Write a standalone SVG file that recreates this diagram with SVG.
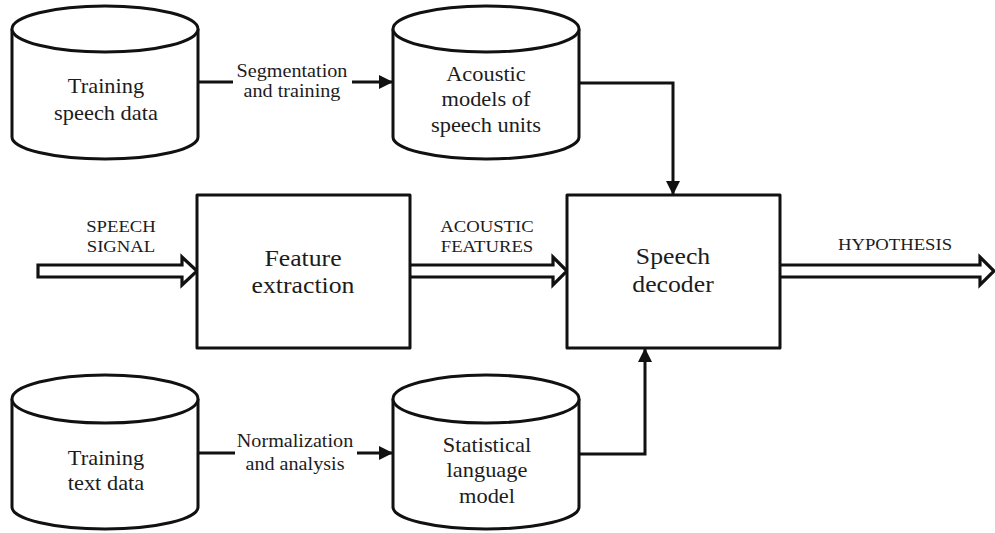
<svg xmlns="http://www.w3.org/2000/svg" width="995" height="533" viewBox="0 0 995 533">
  <style>
    .shape { fill: #ffffff; stroke: #111111; stroke-width: 3; stroke-linejoin: round; }
    .wire { fill: none; stroke: #111111; stroke-width: 3; }
    .hollow { fill: #ffffff; stroke: #111111; stroke-width: 3.2; stroke-linejoin: miter; }
    text { font-family: "Liberation Serif", "Times New Roman", serif; fill: #1c1c1c; text-anchor: middle; }
    .body { font-size: 20px; }
    .lbl { font-size: 18px; }
    .caps { font-size: 17px; }
    .big { font-size: 23px; }
  </style>
  <defs>
    <marker id="head" markerUnits="userSpaceOnUse" markerWidth="14" markerHeight="14" viewBox="0 0 14 14" refX="13" refY="7" orient="auto">
      <path d="M0,0 L14,7 L0,14 Z" fill="#111111"/>
    </marker>
  </defs>

  <!-- connectors -->
  <g id="connectors">
    <path class="wire" d="M198,82 H233 M352,82 H392" marker-end="url(#head)"/>
    <path class="wire" d="M579,83 H673 V194" marker-end="url(#head)"/>
    <path class="wire" d="M198,453 H235 M357,453 H392" marker-end="url(#head)"/>
    <path class="wire" d="M579,454 H645 V349" marker-end="url(#head)"/>
    <!-- wide hollow signal arrows -->
    <path class="hollow" d="M38,265 H182 V257 L197,271 L182,285 V277 H38 Z"/>
    <path class="hollow" d="M410,265 H553 V257 L567,271 L553,285 V277 H410"/>
    <path class="hollow" d="M780,265 H980 V257 L994,271 L980,285 V277 H780"/>
    <text class="lbl" transform="translate(292,0) scale(1.12,1)"><tspan x="0" y="77">Segmentation</tspan><tspan x="0" y="97">and training</tspan></text>
    <text class="lbl" transform="translate(295,0) scale(1.12,1)"><tspan x="0" y="447">Normalization</tspan><tspan x="0" y="470">and analysis</tspan></text>
    <text class="caps" transform="translate(121,0) scale(1.1,1)"><tspan x="0" y="232">SPEECH</tspan><tspan x="0" y="252">SIGNAL</tspan></text>
    <text class="caps" transform="translate(487,0) scale(1.1,1)"><tspan x="0" y="232">ACOUSTIC</tspan><tspan x="0" y="252">FEATURES</tspan></text>
    <text class="caps" transform="translate(895,0) scale(1.1,1)"><tspan x="0" y="250">HYPOTHESIS</tspan></text>
  </g>

  <!-- databases -->
  <g id="training-speech-data">
    <path class="shape" d="M12,29 V137 A93,22 0 0 0 198,137 V29"/>
    <ellipse class="shape" cx="105" cy="29" rx="93" ry="23"/>
    <text class="body" transform="translate(106,0) scale(1.12,1)"><tspan x="0" y="93">Training</tspan><tspan x="0" y="120">speech data</tspan></text>
  </g>

  <g id="acoustic-models">
    <path class="shape" d="M393,29 V137 A93,22 0 0 0 579,137 V29"/>
    <ellipse class="shape" cx="486" cy="29" rx="93" ry="23"/>
    <text class="body" transform="translate(486,0) scale(1.12,1)"><tspan x="0" y="81">Acoustic</tspan><tspan x="0" y="106">models of</tspan><tspan x="0" y="132">speech units</tspan></text>
  </g>

  <g id="training-text-data">
    <path class="shape" d="M12,399 V507 A93,22 0 0 0 198,507 V399"/>
    <ellipse class="shape" cx="105" cy="399" rx="93" ry="24"/>
    <text class="body" transform="translate(106,0) scale(1.12,1)"><tspan x="0" y="465">Training</tspan><tspan x="0" y="490">text data</tspan></text>
  </g>

  <g id="language-model">
    <path class="shape" d="M393,399 V507 A93,22 0 0 0 579,507 V399"/>
    <ellipse class="shape" cx="486" cy="399" rx="93" ry="24"/>
    <text class="body" transform="translate(487,0) scale(1.12,1)"><tspan x="0" y="452">Statistical</tspan><tspan x="0" y="477">language</tspan><tspan x="0" y="503">model</tspan></text>
  </g>

  <!-- processing blocks -->
  <g id="feature-extraction">
    <rect class="shape" x="197" y="195" width="213" height="153"/>
    <text class="big" transform="translate(303,0) scale(1.12,1)"><tspan x="0" y="266">Feature</tspan><tspan x="0" y="293">extraction</tspan></text>
  </g>

  <g id="speech-decoder">
    <rect class="shape" x="567" y="195" width="213" height="153"/>
    <text class="big" transform="translate(673,0) scale(1.12,1)"><tspan x="0" y="264">Speech</tspan><tspan x="0" y="292">decoder</tspan></text>
  </g>
</svg>
